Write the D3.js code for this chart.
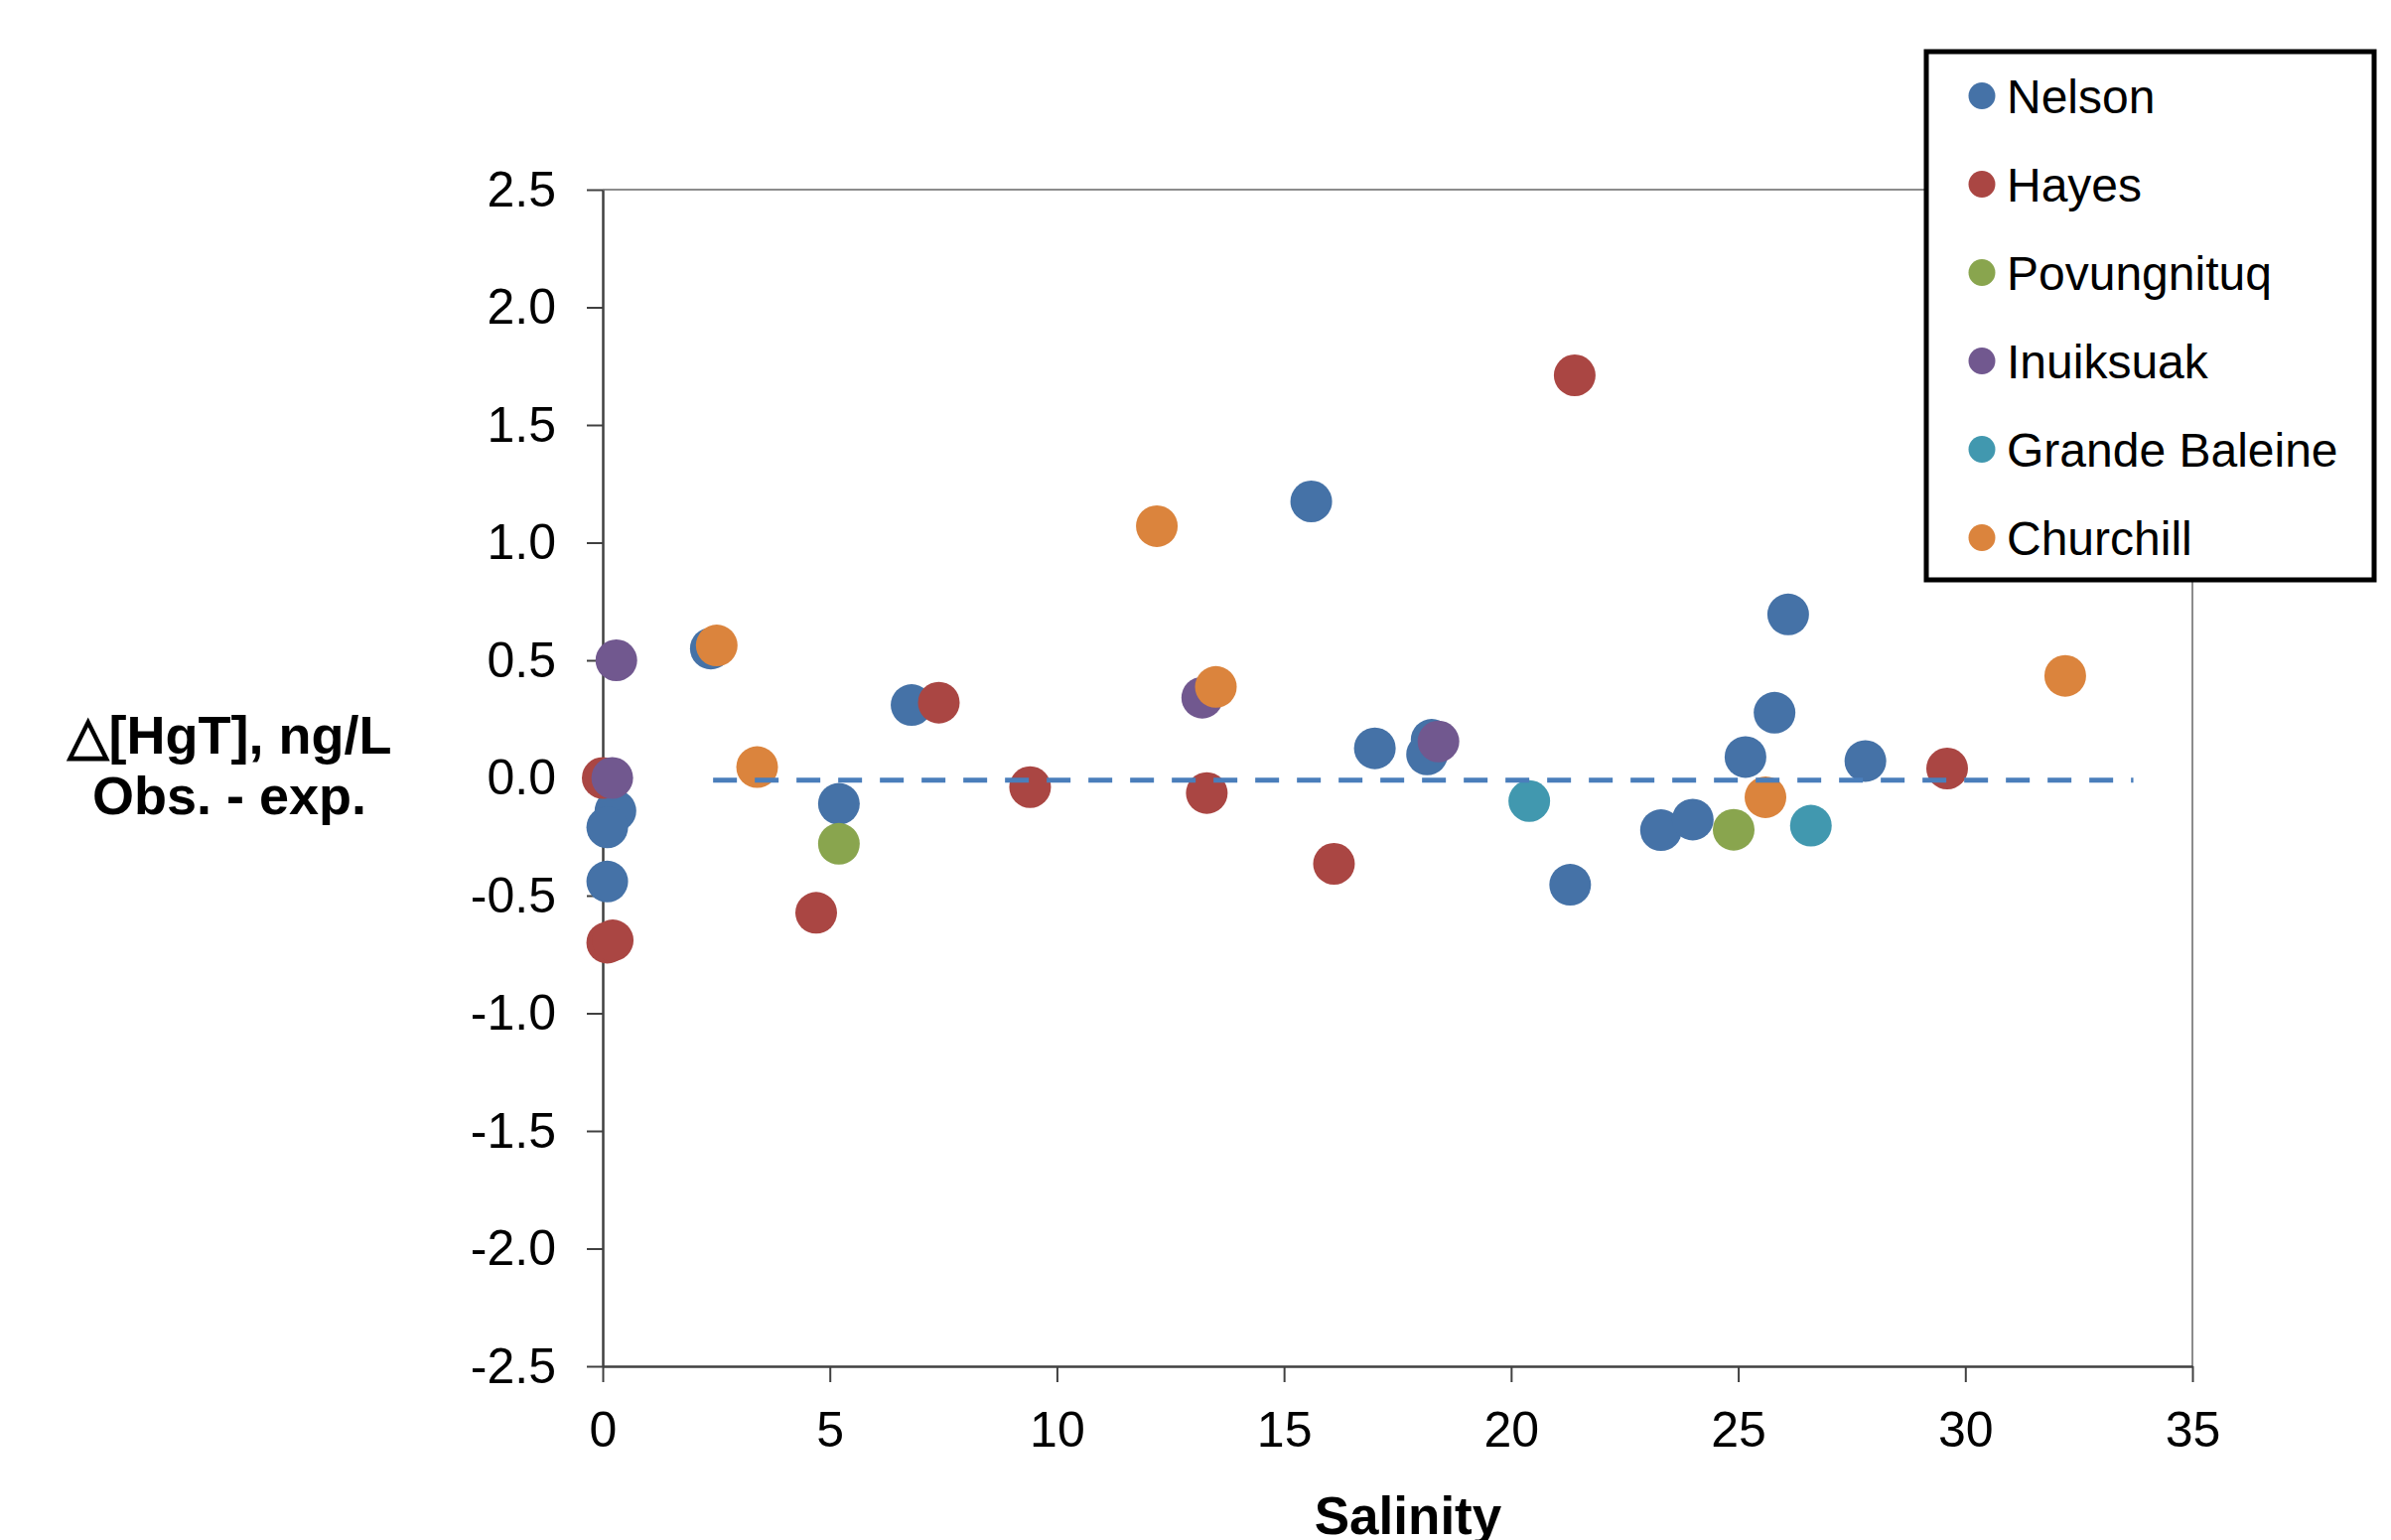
<!DOCTYPE html>
<html>
<head>
<meta charset="utf-8">
<script src="https://cdn.jsdelivr.net/npm/d3@7"></script>
<style>
  body { margin: 0; background: #fff; }
  text { font-family: "Liberation Sans", Arial, sans-serif; }
</style>
</head>
<body>
<svg id="chart" width="2408" height="1551"></svg>
<script>
// series, [salinity, obs - exp]
var seriesNames = ["Nelson", "Hayes", "Povungnituq", "Inuiksuak", "Grande Baleine", "Churchill"];
var seriesColors = ["#4572a7", "#aa4643", "#89a54e", "#71588f", "#4198af", "#db843d"];

var nelson = [[0.28, -0.14], [0.10, -0.21], [0.10, -0.44], [2.38, 0.55], [5.2, -0.11], [6.8, 0.31],
  [15.6, 1.175], [17.0, 0.126], [18.25, 0.162], [18.15, 0.10], [21.3, -0.454], [23.3, -0.222],
  [24.0, -0.177], [25.16, 0.089], [25.8, 0.277], [26.1, 0.695], [27.8, 0.072]];
var hayes = [[0.0, 0.0], [0.10, -0.70], [0.22, -0.69], [4.7, -0.573], [7.4, 0.32], [9.41, -0.039],
  [13.3, -0.064], [16.1, -0.365], [21.4, 1.711], [29.6, 0.04]];
var povungnituq = [[5.2, -0.28], [24.9, -0.22]];
var inuiksuak = [[0.30, 0.50], [0.21, 0.0], [13.2, 0.341], [18.4, 0.155]];
var grandeBaleine = [[20.4, -0.098], [26.6, -0.203]];
var churchill = [[2.51, 0.563], [3.4, 0.046], [12.2, 1.07], [13.5, 0.387], [25.6, -0.082], [32.2, 0.434]];

// zero reference line (dashed)
var zeroLine = [[2.43, -0.01], [33.7, -0.01]];

var xTicks = [0, 5, 10, 15, 20, 25, 30, 35];
var yTicks = [-2.5, -2.0, -1.5, -1.0, -0.5, 0.0, 0.5, 1.0, 1.5, 2.0, 2.5];

function drawChart() {
  var svg = d3.select("#chart");
  var allSeries = [nelson, hayes, povungnituq, inuiksuak, grandeBaleine, churchill];

  var x = d3.scaleLinear().domain([0, 35]).range([607, 2208]);
  var y = d3.scaleLinear().domain([-2.5, 2.5]).range([1376, 191]);

  // top and right frame
  svg.append("path")
    .attr("d", "M" + x(0) + "," + y(2.5) + "H" + x(35) + "V" + y(-2.5))
    .attr("fill", "none")
    .attr("stroke", "#8c8c8c")
    .attr("stroke-width", 2);

  var yAxis = svg.append("g")
    .attr("transform", "translate(" + x(0) + ",0)")
    .call(d3.axisLeft(y)
      .tickValues(yTicks)
      .tickSizeInner(16)
      .tickSizeOuter(0)
      .tickPadding(31)
      .tickFormat(function(d) { return d.toFixed(1); }));

  var xAxis = svg.append("g")
    .attr("transform", "translate(0," + y(-2.5) + ")")
    .call(d3.axisBottom(x)
      .tickValues(xTicks)
      .tickSizeInner(16)
      .tickSizeOuter(0)
      .tickPadding(29)
      .tickFormat(d3.format("d")));

  [xAxis, yAxis].forEach(function(a) {
    a.select(".domain").attr("stroke", "#404040").attr("stroke-width", 2.5);
    a.selectAll(".tick line").attr("stroke", "#404040").attr("stroke-width", 2);
    a.selectAll(".tick text")
      .attr("fill", "#000")
      .style("font-family", "'Liberation Sans', Arial, sans-serif")
      .style("font-size", "50px");
  });

  // points
  allSeries.forEach(function(data, i) {
    svg.append("g")
      .selectAll("circle")
      .data(data)
      .join("circle")
        .attr("cx", function(d) { return x(d[0]); })
        .attr("cy", function(d) { return y(d[1]); })
        .attr("r", 21)
        .attr("fill", seriesColors[i]);
  });

  var line = d3.line()
    .x(function(d) { return x(d[0]); })
    .y(function(d) { return y(d[1]); });

  svg.append("path")
    .datum(zeroLine)
    .attr("fill", "none")
    .attr("stroke", "#4a7ebb")
    .attr("stroke-width", 5)
    .attr("stroke-dasharray", "24,18")
    .attr("d", line);

  // axis titles
  svg.append("text")
    .attr("x", 1418)
    .attr("y", 1545)
    .attr("text-anchor", "middle")
    .attr("font-weight", "bold")
    .attr("font-size", "53px")
    .text("Salinity");

  var yTitle = svg.append("text")
    .attr("text-anchor", "middle")
    .attr("font-weight", "bold")
    .attr("font-size", "54px");
  yTitle.append("tspan").attr("x", 231).attr("y", 759).text("\u25B3[HgT], ng/L");
  yTitle.append("tspan").attr("x", 231).attr("y", 820).text("Obs. - exp.");

  // legend
  var legend = svg.append("g");
  legend.append("rect")
    .attr("x", 1940)
    .attr("y", 52)
    .attr("width", 451)
    .attr("height", 532)
    .attr("fill", "#fff")
    .attr("stroke", "#000")
    .attr("stroke-width", 5);

  seriesNames.forEach(function(name, i) {
    var cy = 96.5 + i * 89;
    legend.append("circle")
      .attr("cx", 1996)
      .attr("cy", cy)
      .attr("r", 13.5)
      .attr("fill", seriesColors[i]);
    legend.append("text")
      .attr("x", 2021)
      .attr("y", cy + 17)
      .attr("font-size", "48px")
      .attr("fill", "#000")
      .text(name);
  });
}

drawChart();
</script>
</body>
</html>
